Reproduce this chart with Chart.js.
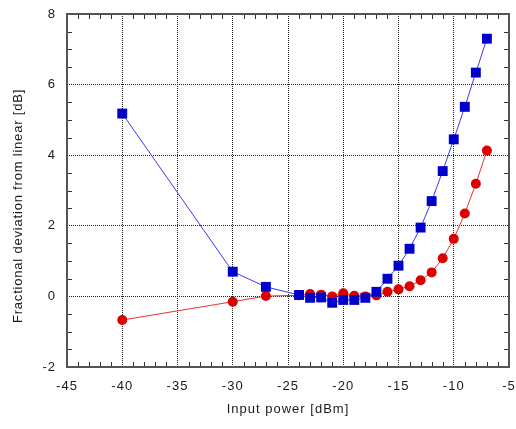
<!DOCTYPE html>
<html><head><meta charset="utf-8">
<script src="https://cdn.jsdelivr.net/npm/chart.js@4/dist/chart.umd.min.js"></script>
<style>html,body{margin:0;padding:0;background:#fff}#w{width:516px;height:429px}</style>
</head><body><div id="w"><canvas id="c"></canvas></div>
<script>
const inputPower = [-40,-30,-27,-24,-23,-22,-21,-20,-19,-18,-17,-16,-15,-14,-13,-12,-11,-10,-9,-8,-7];
const blueDeviation = [5.18,0.70,0.27,0.04,-0.04,-0.03,-0.18,-0.10,-0.10,-0.04,0.13,0.50,0.87,1.35,1.95,2.70,3.55,4.45,5.37,6.34,7.30];
const redDeviation = [-0.67,-0.15,0.01,0.03,0.07,0.05,0.00,0.09,0.02,0.00,0.03,0.13,0.20,0.29,0.46,0.68,1.08,1.63,2.35,3.19,4.13];
const xTicks = [-45,-40,-35,-30,-25,-20,-15,-10,-5];
const yTicks = [-2,0,2,4,6,8];
const xTitle = 'Input power [dBm]';
const yTitle = 'Fractional deviation from linear [dB]';

const toPts = ys => inputPower.map((x,i)=>({x, y: ys[i]}));
const FAM = "'Liberation Sans', Arial, sans-serif";
const font = {family: FAM, size: 13};
const TXT = '#1a1a1a';

const framePlugin = {
  id: 'frame',
  beforeDraw(chart) { chart.ctx.letterSpacing = '1px'; },
  beforeDatasetsDraw(chart) {
    const {ctx, chartArea: a, scales: {x, y}} = chart;
    ctx.save();
    ctx.strokeStyle = '#333';
    ctx.lineWidth = 1;
    ctx.beginPath();
    for (let v = -45; v <= -5; v += 1) {
      if (v % 5 === 0) continue;
      const px = Math.round(x.getPixelForValue(v)) + 0.5;
      ctx.moveTo(px, a.bottom); ctx.lineTo(px, a.bottom - 5);
      ctx.moveTo(px, a.top); ctx.lineTo(px, a.top + 5);
    }
    for (let v = -2; v <= 8; v += 0.5) {
      if (Math.abs(v % 2) < 1e-9) continue;
      const py = Math.round(y.getPixelForValue(v)) + 0.5;
      ctx.moveTo(a.left, py); ctx.lineTo(a.left + 5, py);
      ctx.moveTo(a.right, py); ctx.lineTo(a.right - 5, py);
    }
    ctx.stroke();
    ctx.strokeStyle = '#555';
    ctx.lineWidth = 2;
    ctx.strokeRect(a.left, a.top, a.right - a.left, a.bottom - a.top);
    ctx.restore();
  },
  afterDraw(chart) {
    const {ctx, chartArea: a} = chart;
    ctx.save();
    ctx.letterSpacing = '1px';
    ctx.fillStyle = TXT;
    ctx.font = '13px ' + FAM;
    ctx.textAlign = 'center';
    ctx.textBaseline = 'middle';
    ctx.fillText(xTitle, (a.left + a.right) / 2, 409);
    ctx.translate(18, 206);
    ctx.rotate(-Math.PI / 2);
    ctx.letterSpacing = '0.8px';
    ctx.fillText(yTitle, 0, 0);
    ctx.restore();
  }
};

new Chart(document.getElementById('c'), {
  type: 'scatter',
  data: {
    datasets: [
      {data: toPts(blueDeviation), showLine: true, borderColor: '#3a3aee', backgroundColor: '#0000cc',
       borderWidth: 1, pointStyle: 'rect', pointRadius: 7, pointBorderWidth: 0, pointBorderColor: '#0000cc'},
      {data: toPts(redDeviation), showLine: true, borderColor: '#e83030', backgroundColor: '#dd0000',
       borderWidth: 1, pointStyle: 'circle', pointRadius: 5, pointBorderWidth: 0, pointBorderColor: '#dd0000'}
    ]
  },
  plugins: [framePlugin],
  options: {
    responsive: true, maintainAspectRatio: false, animation: false,
    layout: {padding: {top: 14, right: 6, left: 0, bottom: 0}},
    plugins: {legend: {display: false}, tooltip: {enabled: false}},
    scales: {
      x: {
        type: 'linear', min: -45, max: -5,
        afterBuildTicks: s => { s.ticks = xTicks.map(v => ({value: v})); },
        afterFit: s => { s.height = 62; s.paddingRight = 0; s.paddingLeft = 0; },
        ticks: {font, color: TXT, padding: 12, maxRotation: 0},
        grid: {color: '#222', lineWidth: 1, drawTicks: false},
        border: {display: false, dash: [1, 1]}
      },
      y: {
        type: 'linear', min: -2, max: 8,
        afterBuildTicks: s => { s.ticks = yTicks.map(v => ({value: v})); },
        afterFit: s => { s.width = 67; s.paddingTop = 0; s.paddingBottom = 0; },
        ticks: {font, color: TXT, padding: 11},
        grid: {color: '#222', lineWidth: 1, drawTicks: false},
        border: {display: false, dash: [1, 1]}
      }
    }
  }
});
</script></body></html>
